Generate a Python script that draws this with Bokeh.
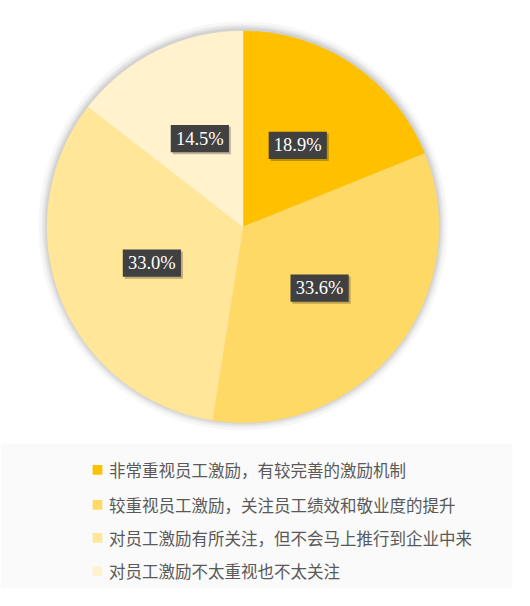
import numpy as np
from bokeh.plotting import figure
from bokeh.models import Range1d
from bokeh.core.properties import value
from bokeh.embed import file_html
from bokeh.resources import INLINE

# 数据
categories = [
    "非常重视员工激励，有较完善的激励机制",
    "较重视员工激励，关注员工绩效和敬业度的提升",
    "对员工激励有所关注，但不会马上推行到企业中来",
    "对员工激励不太重视也不太关注",
]
shares = [18.9, 33.6, 33.0, 14.5]
colors = ["#FFC000", "#FFD966", "#FFE699", "#FFF2CC"]

W, H = 514, 590
# 坐标 = 参考图像素 530x606 (x 向右, y 向上 = 606 - 像素y)
p = figure(width=W, height=H, output_backend="svg", toolbar_location=None,
           x_range=Range1d(0, 530), y_range=Range1d(0, 606),
           min_border=0)
p.axis.visible = False
p.grid.visible = False
p.outline_line_color = None
p.background_fill_color = "white"

cx, cy, r = 250, 606 - 232.5, 202

# 阴影
for k, a in zip([9, 6, 4, 2], [0.03, 0.04, 0.05, 0.06]):
    p.circle(cx, cy + 1, radius=r + k, fill_color="#000000", fill_alpha=a, line_color=None)

vals = np.array(shares)
cum = np.concatenate([[0], np.cumsum(vals)]) / vals.sum()
starts = np.pi / 2 - cum[:-1] * 2 * np.pi
ends = np.pi / 2 - cum[1:] * 2 * np.pi
p.wedge(x=cx, y=cy, radius=r, start_angle=list(starts), end_angle=list(ends),
        direction="clock", fill_color=colors, line_color=colors, line_width=0.5)

# 数据标签
mids = (starts + ends) / 2
lx = cx + 0.5 * r * np.cos(mids)
ly = cy + 0.5 * r * np.sin(mids)
labels = [f"{v:.1f}%" for v in shares]
p.rect(x=list(lx + 2), y=list(ly - 2), width=60, height=28, fill_color="#000000",
       fill_alpha=0.25, line_color=None)
p.rect(x=list(lx), y=list(ly), width=60, height=28, fill_color="#404040", line_color=None)
p.text(x=list(lx), y=list(ly), text=labels, text_color="white",
       text_font=value("Liberation Serif"), text_font_size="18.5px",
       text_align="center", text_baseline="middle")

# 图例
p.quad(left=0, right=528, bottom=606 - 603, top=606 - 455, fill_color="#FAFAFA", line_color=None)
leg_y = [606 - 482, 606 - 518, 606 - 552, 606 - 586]
p.rect(x=[100] * 4, y=leg_y, width=10, height=10, fill_color=colors, line_color=None)
p.text(x=[112] * 4, y=leg_y, text=categories, text_color="#595959",
       text_font=value("Noto Sans CJK SC"), text_font_size="16.5px",
       text_align="left", text_baseline="middle")

open("out.html", "w").write(file_html(p, INLINE))
